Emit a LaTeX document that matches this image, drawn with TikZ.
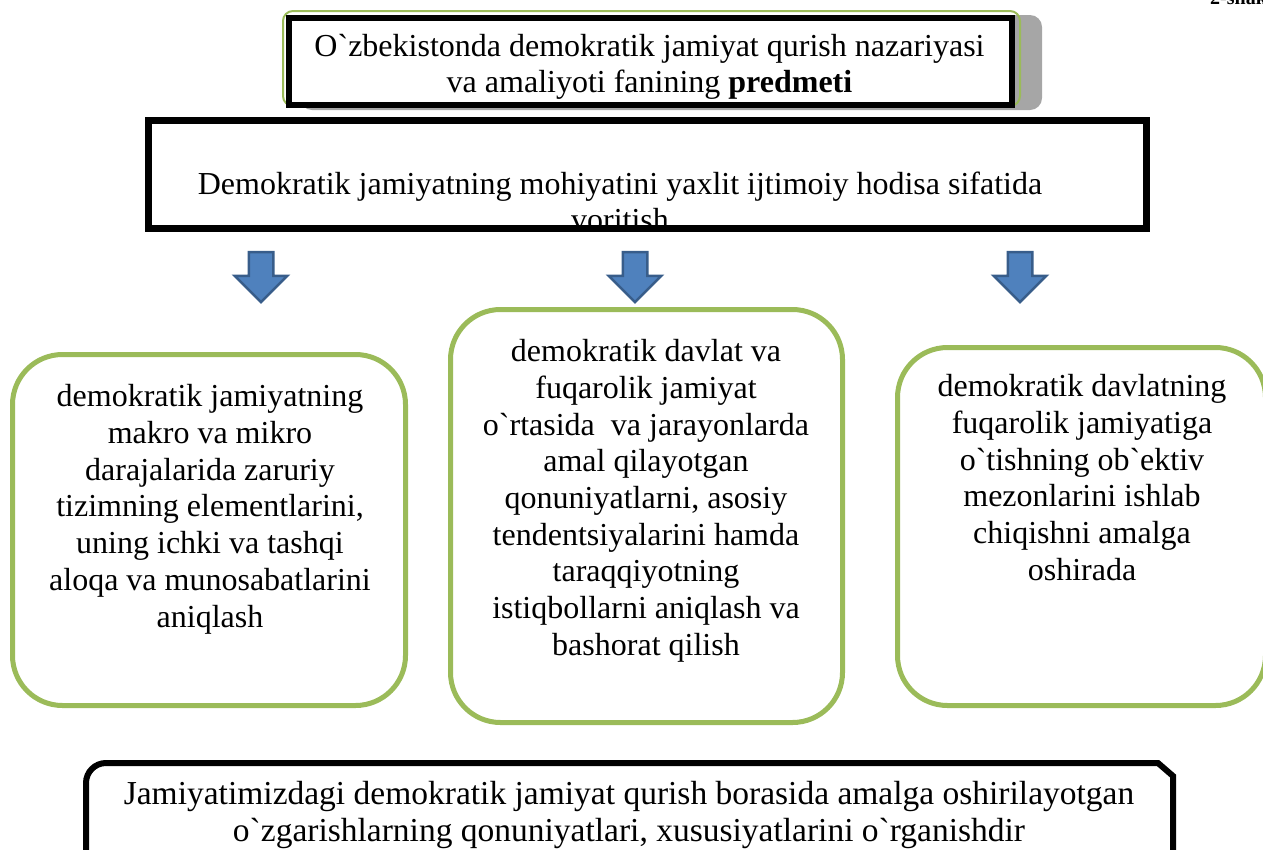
\documentclass[tikz,border=0pt]{standalone}
\usepackage{fontspec}
\setmainfont{Liberation Serif}[Ligatures=TeXOff]
\usetikzlibrary{shapes.arrows,positioning}
\definecolor{leafgreen}{RGB}{155,187,89}
\definecolor{arrowblue}{RGB}{79,129,189}
\definecolor{arrowedge}{RGB}{56,93,138}
\definecolor{shadowgray}{RGB}{166,166,166}
\newcommand{\bodysize}{\fontsize{32}{36.7}\selectfont}

\begin{document}
\begin{tikzpicture}[x=1pt, y=-1pt,
  frame/.style={draw=black, line width=6pt, fill=white, inner sep=0pt},
  greenbox/.style={draw=leafgreen, line width=5pt, rounded corners=50pt, fill=white, inner sep=0pt},
  txt/.style={align=center, font=\bodysize, inner sep=0pt},
  downarrow/.style={single arrow, draw=arrowedge, fill=arrowblue, line width=2.5pt, rotate=-90,
    minimum height=50pt, inner xsep=0pt, inner ysep=11pt,
    single arrow head extend=14pt, single arrow tip angle=90}]
\useasboundingbox (0,0) rectangle (1263,849);

% title with its shadow and green rim
\node[frame, minimum width=723, minimum height=87] (title) at (650.5,61.5) {};
\fill[shadowgray, rounded corners=12pt] ([xshift=14pt]title.north west) rectangle ([xshift=27pt,yshift=-2pt]title.south east);
\draw[leafgreen, line width=2pt, rounded corners=10pt] ([xshift=-3pt,yshift=4pt]title.north west) rectangle ([xshift=5pt,yshift=2pt]title.south east);
\node[frame, minimum width=723, minimum height=87] at (title) {};
\node[txt, font=\fontsize{32}{36}\selectfont] (titletext) at (649.5,67) {O`zbekistonda demokratik jamiyat qurish nazariyasi\\va amaliyoti fanining \textbf{predmeti}};
\node[anchor=base west, inner sep=0pt, font=\fontsize{20}{22}\selectfont\bfseries] (figno) at (1210,4) {2-shakl};

% essence box, second line cut by the frame
\node[frame, line width=7pt, minimum width=998, minimum height=108] (essence) at (647.5,174.5) {};
\begin{scope}
  \clip ([xshift=7pt,yshift=-7pt]essence.north west) rectangle ([xshift=-7pt,yshift=7pt]essence.south east);
  \node[txt] (essencetext) at (620,201.4) {Demokratik jamiyatning mohiyatini yaxlit ijtimoiy hodisa sifatida\\voritish};
\end{scope}

\foreach \ax/\nm in {261/left, 635/mid, 1020/right}
  \node[downarrow] (arrow\nm) at (\ax,271) {};

% three tasks
\node[greenbox, minimum width=393, minimum height=351] (taskleft) at (209,530) {};
\node[greenbox, minimum width=392, minimum height=413] (taskmid) at (646.5,516) {};
\node[greenbox, minimum width=368, minimum height=358] (taskright) at (1081.5,526.5) {};
\node[txt] (lefttext) at (210,509.2) {demokratik jamiyatning\\makro va mikro\\darajalarida zaruriy\\tizimning elementlarini,\\uning ichki va tashqi\\aloqa va munosabatlarini\\aniqlash};
\node[txt] (midtext) at (646,500.8) {demokratik davlat va\\fuqarolik jamiyat\\o`rtasida\ \ va jarayonlarda\\amal qilayotgan\\qonuniyatlarni, asosiy\\tendentsiyalarini hamda\\taraqqiyotning\\istiqbollarni aniqlash va\\bashorat qilish};
\node[txt] (righttext) at (1082,477.4) {demokratik davlatning\\fuqarolik jamiyatiga\\o`tishning ob`ektiv\\mezonlarini ishlab\\chiqishni amalga\\oshirada};

% subject box
\draw[line width=6pt] (86,870) -- (86,783) arc[start angle=180, end angle=270, radius=20] -- (1158,763) -- (1173,776) -- (1173,870);
\node[txt, font=\fontsize{33.5}{37}\selectfont] (subject) at (629,815) {Jamiyatimizdagi demokratik jamiyat qurish borasida amalga oshirilayotgan\\o`zgarishlarning qonuniyatlari, xususiyatlarini o`rganishdir};
\end{tikzpicture}
\end{document}
